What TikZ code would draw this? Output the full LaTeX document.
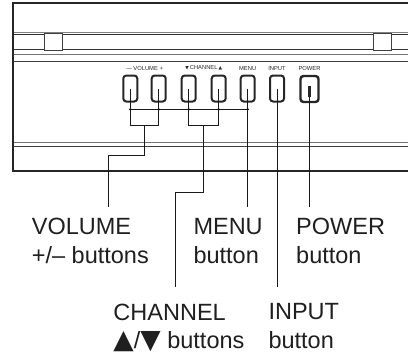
\documentclass[tikz,border=0pt]{standalone}
\usepackage{fontspec}
\setmainfont{Liberation Sans}
\newfontfamily\symfont{DejaVu Sans}
\newcommand\bigtri[1]{{\symfont\fontsize{26.5}{28.5}\selectfont #1}}
\newcommand\smalltri[1]{{\symfont\fontsize{4.6}{6}\selectfont #1}}
\usetikzlibrary{calc}
\usetikzlibrary{positioning}

\begin{document}
\begin{tikzpicture}[x=1pt,y=-1pt,
    btn/.style={draw=black!85,line width=2pt,rounded corners=3pt,minimum width=14pt,minimum height=26pt,inner sep=0pt},
    tag/.style={font=\fontsize{5.8}{6}\selectfont,inner sep=0pt,text=black!85},
    callout/.style={font=\fontsize{23.5}{28.5}\selectfont,align=left,inner sep=0pt,anchor=north west,text=black!88},
    lead/.style={line width=0.9pt,black!90}]
      \useasboundingbox (0,0) rectangle (408,357);
      % panel
      \draw[black!50,line width=0.6pt] (13,32) -- (408,32);
      \draw[black!80,line width=1.2pt] (13,34.5) -- (408,34.5);
      \draw[black!80,line width=1.4pt] (13,49.5) -- (408,49.5);
      \draw[black!55,line width=0.6pt] (13,54) -- (408,54);
      \draw[black!75,line width=1pt] (13,61.5) -- (408,61.5);
      \draw[black!55,line width=0.8pt] (13,142) -- (408,142);
      \draw[black!75,line width=1pt] (13,146.3) -- (408,146.3);
      \draw[black!85,line width=2pt] (408,3) -- (13,3) -- (13,171) -- (408,171);
      \draw[black!75,line width=1pt,fill=white] (44,33.5) rectangle (62,50.5);
      \draw[black!75,line width=1pt,fill=white] (373.7,33.5) rectangle (391.3,50.5);
      % buttons
      \foreach \name/\x in {volminus/130.3,volplus/158.7,chdown/188.7,chup/218.7,menu/247.7,input/277}
        \node[btn] (\name) at (\x,88.5) {};
      \node[btn,minimum width=18pt,line width=2.4pt] (power) at (309.5,89) {};
      \draw[line width=2.6pt,black!85] ([yshift=3pt] power.center) -- ([yshift=-7.5pt] power.center);
      \path (volminus.north) -- (volplus.north) coordinate[midway] (voltop);
      \path (chdown.north) -- (chup.north) coordinate[midway] (chtop);
      \node[tag,above=4pt of voltop] (voltag) {— VOLUME +};
      \node[tag,above=4pt of chtop] (chtag) {\smalltri{▼}\,CHANNEL\,\smalltri{▲}};
      \node[tag,above=4pt of menu] (menutag) {MENU};
      \node[tag,above=4pt of input] (inputtag) {INPUT};
      \node[tag,above=4pt of power] (powertag) {POWER};
      % leads
      \coordinate (bus) at (0,109.3);
      \coordinate (volend) at (108.3,207);
      \coordinate (chend) at (175,287);
      \coordinate (menuend) at (menu |- volend);
      \coordinate (inputend) at (input |- chend);
      \coordinate (powerend) at (power |- volend);
      \draw[lead] (volminus.center |- bus) -- (menu.center |- bus);
      \foreach \b in {volminus,volplus,chdown,chup,menu}
        \fill (\b.center |- bus) circle (1.3pt);
      \draw[lead] (volminus.center) -- ++(0,36.5) coordinate (volbar) -| (volplus.center);
      \draw[lead] (chdown.center) -- ++(0,36.5) coordinate (chbar) -| (chup.center);
      \draw[lead] (voltop |- volbar) -- ++(0,30) -| (volend);
      \draw[lead] (chtop |- chbar) -- ++(0,67.7) -| (chend);
      \draw[lead] (menu.center) -- (menuend);
      \draw[lead] (input.center) -- (inputend);
      \draw[lead] ([yshift=-7.5pt] power.center) -- (powerend);
      % labels
      \node[callout] (vollabel) at (31.7,218.3) {VOLUME\\+/– buttons};
      \node[callout] (menulabel) at (193.3,218.3) {MENU\\button};
      \node[callout] (powerlabel) at (296,218.3) {POWER\\button};
      \node[callout] (chlabel) at (113.3,303.5) {CHANNEL\\\bigtri{▲}/\bigtri{▼} buttons};
      \node[callout] (inputlabel) at (268.3,303.5) {INPUT\\button};
\end{tikzpicture}
\end{document}
